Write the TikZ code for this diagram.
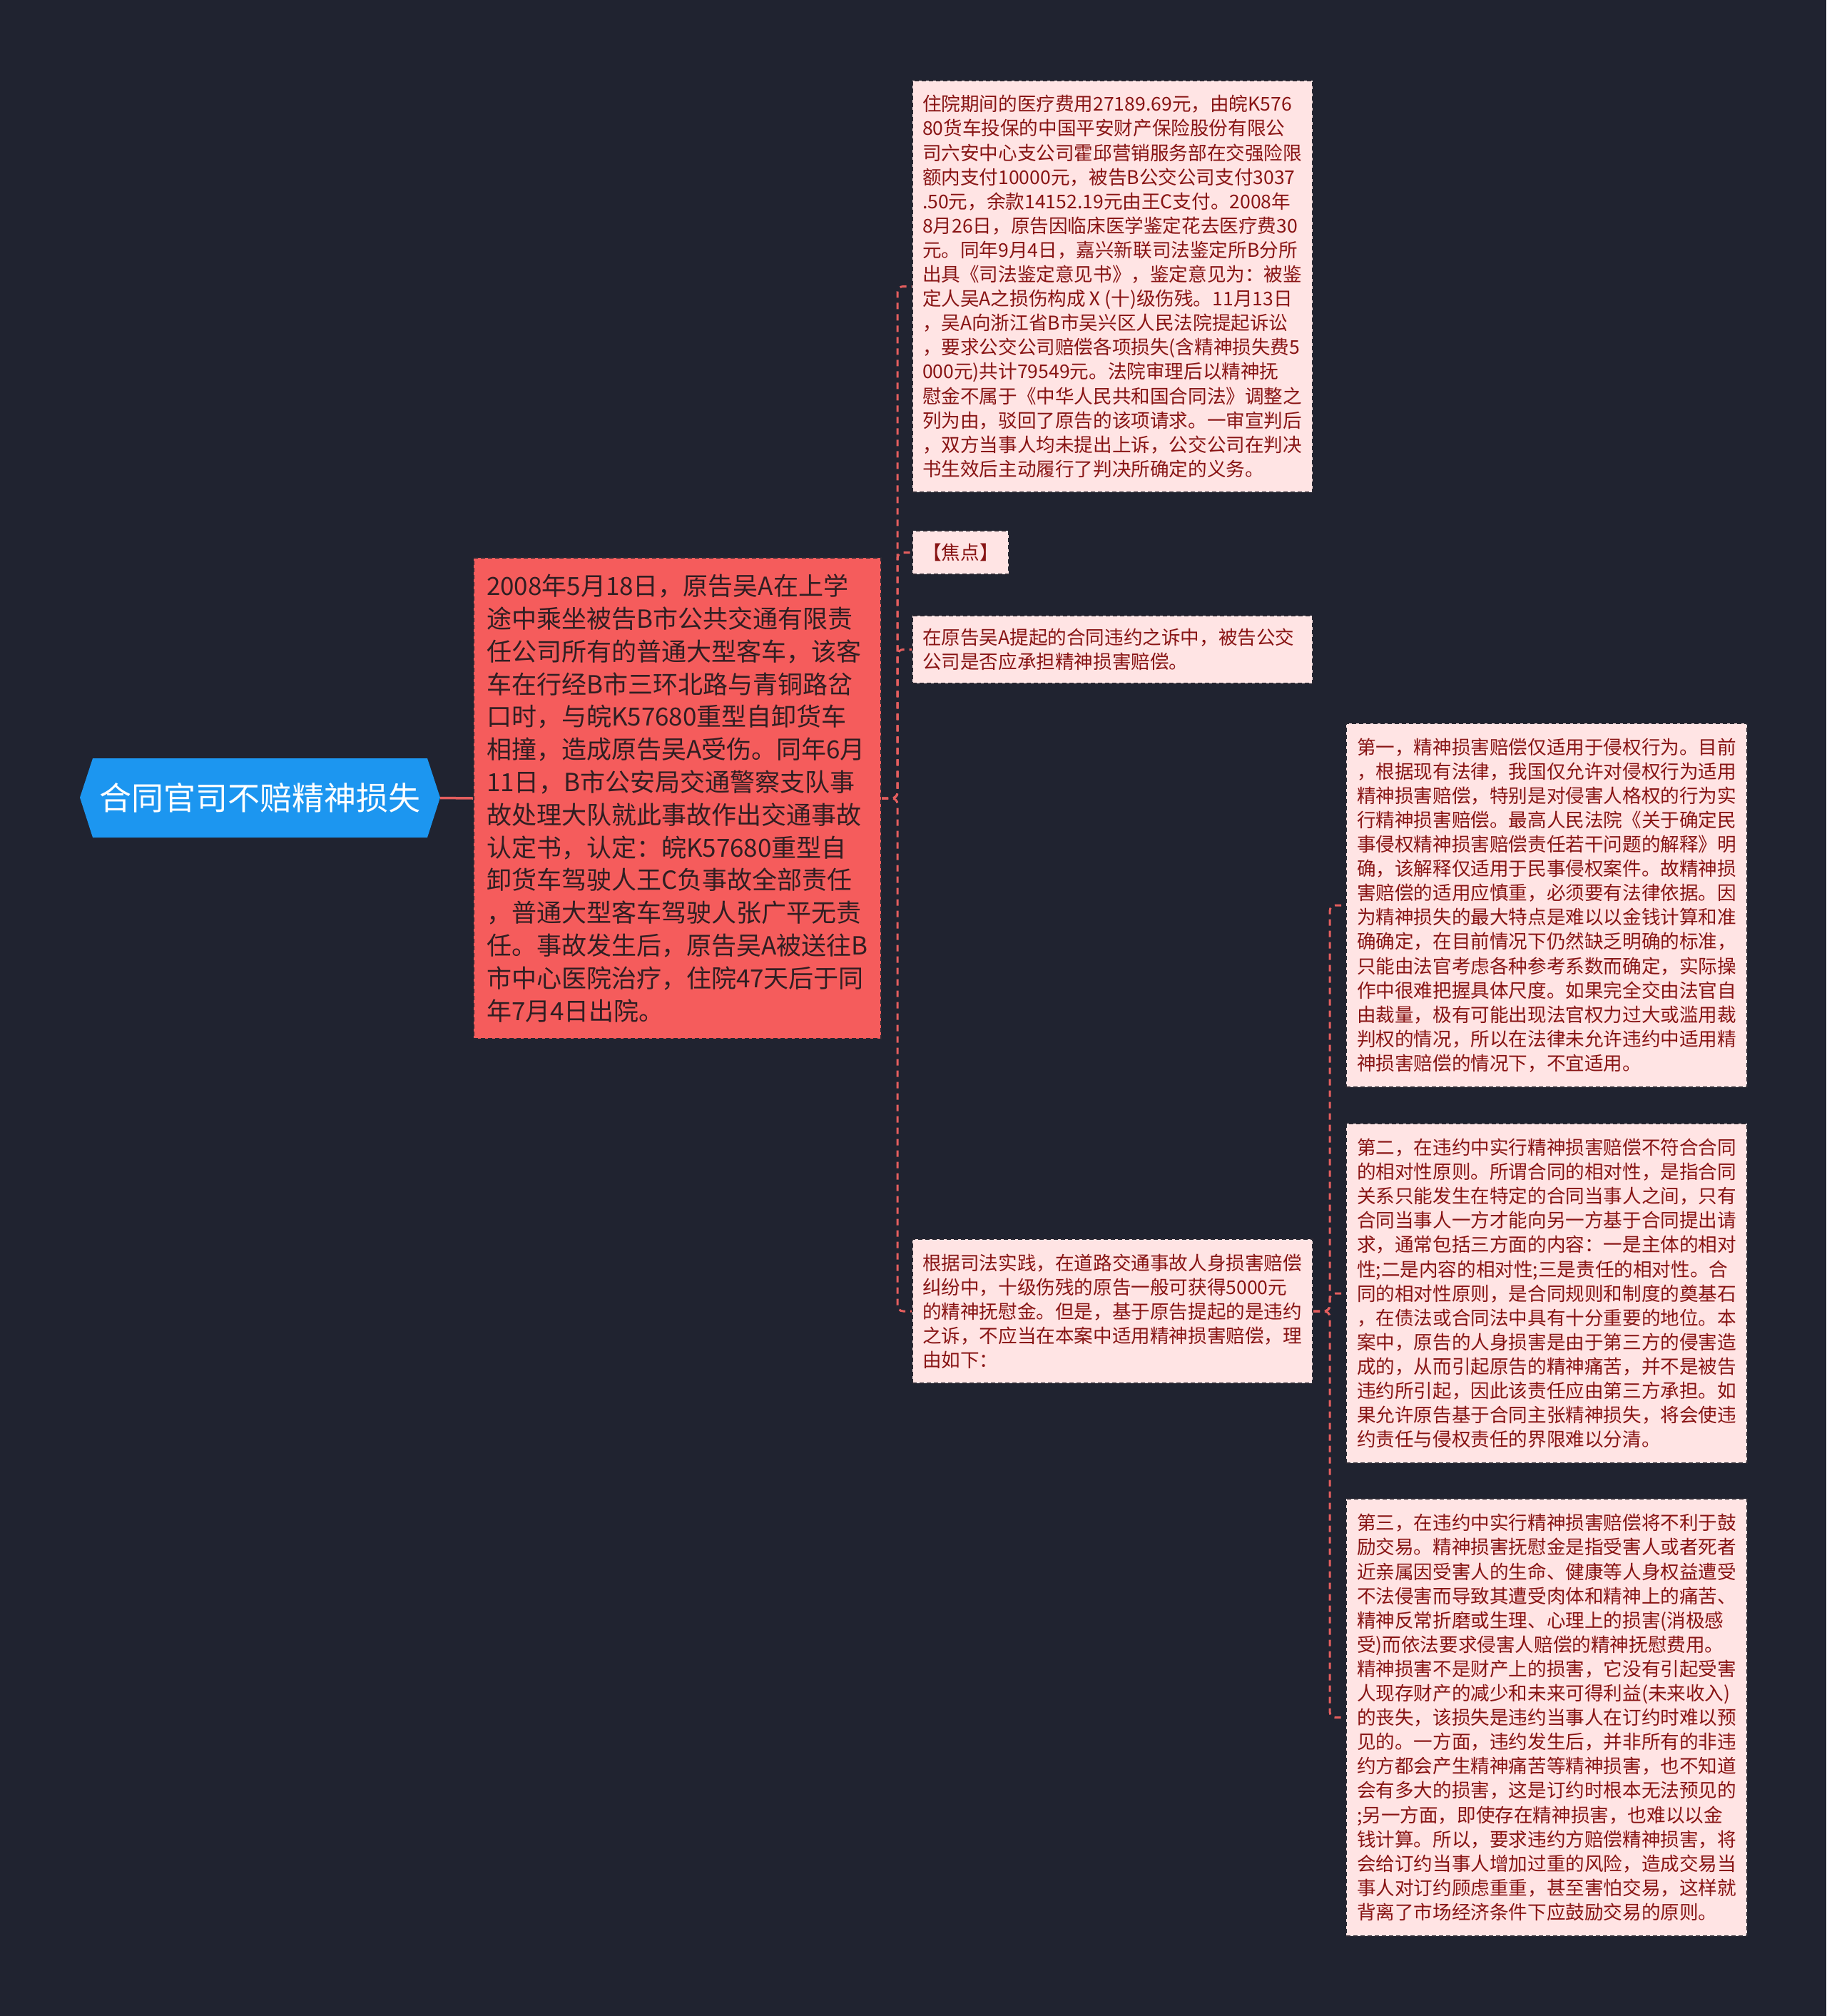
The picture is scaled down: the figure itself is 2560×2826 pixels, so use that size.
\documentclass[tikz,border=0pt]{standalone}
\usepackage{fontspec}
\setmainfont{Noto Sans CJK SC}
\definecolor{bgc}{RGB}{32,35,48}
\definecolor{rootfill}{RGB}{28,150,240}
\definecolor{redfill}{RGB}{245,92,92}
\definecolor{redtext}{RGB}{48,30,34}
\definecolor{leaffill}{RGB}{255,228,228}
\definecolor{leaftext}{RGB}{136,20,20}
\definecolor{leafborder}{RGB}{42,40,50}
\definecolor{conncol}{RGB}{228,94,94}
\tikzset{
  conn/.style={draw=conncol, line width=3pt, dash pattern=on 9pt off 7pt, rounded corners=8pt},
  rootconn/.style={draw=conncol, line width=3.5pt},
  mainbox/.style={anchor=north west, fill=redfill, draw=leafborder, line width=2pt, dash pattern=on 6pt off 4pt,
    text=redtext, font=\fontsize{35}{45.8}\selectfont, inner xsep=18pt, inner ysep=0pt, align=left},
  leaf/.style={anchor=north west, fill=leaffill, draw=leafborder, line width=2pt, dash pattern=on 6pt off 4pt,
    text=leaftext, font=\fontsize{26.6}{34.1}\selectfont, inner xsep=15pt, inner ysep=0pt, align=left},
}
\begin{document}
\begin{tikzpicture}[x=1pt,y=-1pt]
\fill[bgc] (0,0) rectangle (2560,2826);
\useasboundingbox (0,0) rectangle (2560,2826);
% root
\fill[rootfill] (112,1118) -- (130,1063) -- (599,1063) -- (617,1118) -- (599,1174) -- (130,1174) -- cycle;
\node (root) at (364.5,1118.5) [minimum width=505pt, minimum height=111pt, inner sep=0pt, text=white,
  font=\fontsize{45}{54}\selectfont] {合同官司不赔精神损失};
% main red node
\node (main) [mainbox, text width=535pt, minimum height=674pt] at (663,781) {2008年5月18日，原告吴A在上学\\途中乘坐被告B市公共交通有限责\\任公司所有的普通大型客车，该客\\车在行经B市三环北路与青铜路岔\\口时，与皖K57680重型自卸货车\\相撞，造成原告吴A受伤。同年6月\\11日，B市公安局交通警察支队事\\故处理大队就此事故作出交通事故\\认定书，认定：皖K57680重型自\\卸货车驾驶人王C负事故全部责任\\，普通大型客车驾驶人张广平无责\\任。事故发生后，原告吴A被送往B\\市中心医院治疗，住院47天后于同\\年7月4日出院。};
% level 2
\node (top) [leaf, inner xsep=14pt, text width=533pt, minimum height=577pt] at (1278,112) {住院期间的医疗费用27189.69元，由皖K576\\80货车投保的中国平安财产保险股份有限公\\司六安中心支公司霍邱营销服务部在交强险限\\额内支付10000元，被告B公交公司支付3037\\.50元，余款14152.19元由王C支付。2008年\\8月26日，原告因临床医学鉴定花去医疗费30\\元。同年9月4日，嘉兴新联司法鉴定所B分所\\出具《司法鉴定意见书》，鉴定意见为：被鉴\\定人吴A之损伤构成Ⅹ(十)级伤残。11月13日\\，吴A向浙江省B市吴兴区人民法院提起诉讼\\，要求公交公司赔偿各项损失(含精神损失费5\\000元)共计79549元。法院审理后以精神抚\\慰金不属于《中华人民共和国合同法》调整之\\列为由，驳回了原告的该项请求。一审宣判后\\，双方当事人均未提出上诉，公交公司在判决\\书生效后主动履行了判决所确定的义务。};
\node (focus) [leaf, align=center, inner xsep=0pt, minimum width=135pt, minimum height=61pt] at (1278,743) {【焦点】};
\node (quest) [leaf, inner xsep=14pt, text width=533pt, minimum height=95pt] at (1278,862) {在原告吴A提起的合同违约之诉中，被告公交\\公司是否应承担精神损害赔偿。};
\node (reason) [leaf, inner xsep=14pt, text width=533pt, minimum height=202pt] at (1278,1736) {根据司法实践，在道路交通事故人身损害赔偿\\纠纷中，十级伤残的原告一般可获得5000元\\的精神抚慰金。但是，基于原告提起的是违约\\之诉，不应当在本案中适用精神损害赔偿，理\\由如下：};
% level 3
\node (first) [leaf, text width=532pt, minimum height=510pt] at (1886,1013) {第一，精神损害赔偿仅适用于侵权行为。目前\\，根据现有法律，我国仅允许对侵权行为适用\\精神损害赔偿，特别是对侵害人格权的行为实\\行精神损害赔偿。最高人民法院《关于确定民\\事侵权精神损害赔偿责任若干问题的解释》明\\确，该解释仅适用于民事侵权案件。故精神损\\害赔偿的适用应慎重，必须要有法律依据。因\\为精神损失的最大特点是难以以金钱计算和准\\确确定，在目前情况下仍然缺乏明确的标准，\\只能由法官考虑各种参考系数而确定，实际操\\作中很难把握具体尺度。如果完全交由法官自\\由裁量，极有可能出现法官权力过大或滥用裁\\判权的情况，所以在法律未允许违约中适用精\\神损害赔偿的情况下，不宜适用。};
\node (second) [leaf, text width=532pt, minimum height=476pt] at (1886,1574) {第二，在违约中实行精神损害赔偿不符合合同\\的相对性原则。所谓合同的相对性，是指合同\\关系只能发生在特定的合同当事人之间，只有\\合同当事人一方才能向另一方基于合同提出请\\求，通常包括三方面的内容：一是主体的相对\\性;二是内容的相对性;三是责任的相对性。合\\同的相对性原则，是合同规则和制度的奠基石\\，在债法或合同法中具有十分重要的地位。本\\案中，原告的人身损害是由于第三方的侵害造\\成的，从而引起原告的精神痛苦，并不是被告\\违约所引起，因此该责任应由第三方承担。如\\果允许原告基于合同主张精神损失，将会使违\\约责任与侵权责任的界限难以分清。};
\node (third) [leaf, text width=532pt, minimum height=613pt] at (1886,2100) {第三，在违约中实行精神损害赔偿将不利于鼓\\励交易。精神损害抚慰金是指受害人或者死者\\近亲属因受害人的生命、健康等人身权益遭受\\不法侵害而导致其遭受肉体和精神上的痛苦、\\精神反常折磨或生理、心理上的损害(消极感\\受)而依法要求侵害人赔偿的精神抚慰费用。\\精神损害不是财产上的损害，它没有引起受害\\人现存财产的减少和未来可得利益(未来收入)\\的丧失，该损失是违约当事人在订约时难以预\\见的。一方面，违约发生后，并非所有的非违\\约方都会产生精神痛苦等精神损害，也不知道\\会有多大的损害，这是订约时根本无法预见的\\;另一方面，即使存在精神损害，也难以以金\\钱计算。所以，要求违约方赔偿精神损害，将\\会给订约当事人增加过重的风险，造成交易当\\事人对订约顾虑重重，甚至害怕交易，这样就\\背离了市场经济条件下应鼓励交易的原则。};
% connectors
\draw[rootconn] (root.east) -- (main.west);
\foreach \c in {top,focus,quest,reason}
  \draw[conn] (main.east) -- ++(22,0) |- (\c.west);
\foreach \c in {first,second,third}
  \draw[conn] (reason.east) -- ++(23,0) |- (\c.west);
\end{tikzpicture}
\end{document}
